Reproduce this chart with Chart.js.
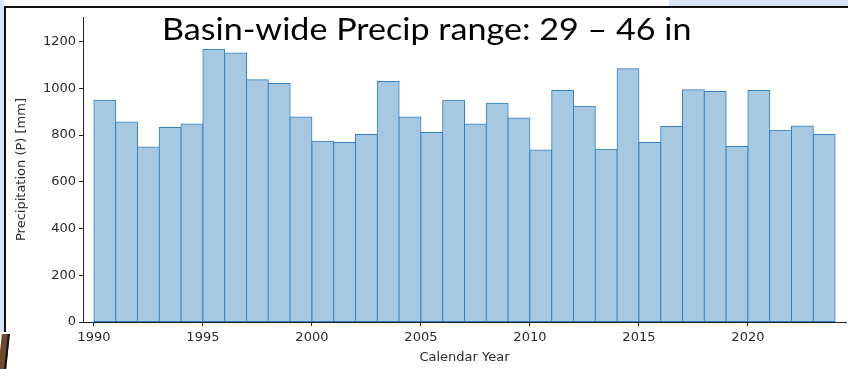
<!DOCTYPE html>
<html>
<head>
<meta charset="utf-8">
<script src="https://cdn.jsdelivr.net/npm/chart.js@4.4.1/dist/chart.umd.min.js"></script>
<style>
  html, body { margin: 0; padding: 0; background: #fff; }
  #wrap { position: relative; width: 848px; height: 369px; overflow: hidden; background: #fff; }
  #leftStrip { position: absolute; left: 0; top: 0; width: 4px; height: 332px; background: #dae3f3; }
  #topStrip { position: absolute; left: 669px; top: 0; width: 179px; height: 6px; background: #dae3f3; }
  #topLine { position: absolute; left: 4px; top: 6px; width: 844px; height: 2px; background: #111; }
  #leftLine { position: absolute; left: 4px; top: 6px; width: 2px; height: 326px; background: #111; }
  #corner { position: absolute; left: 0; top: 334px; width: 6px; height: 35px; border-right: 2px solid #111; background: #6b4a2e; transform: skewX(-6deg); }
  #mycanvas { position: absolute; left: 0; top: 0; }
  #title { position: absolute; left: 162px; top: 11px; font-family: Lato, "Open Sans", sans-serif; font-size: 31px; color: #000; white-space: nowrap; line-height: 34px; transform: scaleX(1.1); transform-origin: 0 0; }
</style>
</head>
<body>
<div id="wrap">
  <div id="leftStrip"></div>
  <div id="topStrip"></div>
  <div id="topLine"></div>
  <div id="leftLine"></div>
  <div id="corner"></div>
  <canvas id="mycanvas" width="848" height="369"></canvas>
  <div id="title">Basin-wide Precip range: 29 – 46 in</div>
</div>
<script>
// annual precipitation, one bar per calendar year (bar spans year .. year+1)
var years = [1990,1991,1992,1993,1994,1995,1996,1997,1998,1999,
             2000,2001,2002,2003,2004,2005,2006,2007,2008,2009,
             2010,2011,2012,2013,2014,2015,2016,2017,2018,2019,
             2020,2021,2022,2023];
var precip = [949,856,749,832,847,1167,1151,1037,1021,877,
              773,768,802,1029,877,811,949,847,936,873,
              736,990,923,739,1084,768,836,994,986,751,
              990,820,839,802];
var xTicks = [1990,1995,2000,2005,2010,2015,2020];
var yTicks = [0,200,400,600,800,1000,1200];

var points = [];
for (var i in years) {
	points.push({x: years[i] + 0.5, y: precip[i]});
}

var tickFont = {family: "'DejaVu Sans'", size: 13};
var textColor = "#2b2b2b";

var ctx = document.getElementById("mycanvas");
var chart = new Chart(ctx, {
	type: 'bar',
	data: {
		datasets: [{
			label: "Precipitation",
			data: points,
			backgroundColor: "#a6c9e1",
			borderColor: "#3580be",
			borderWidth: 1,
			borderSkipped: false,
			inflateAmount: 0.5,
			barPercentage: 1.0,
			categoryPercentage: 1.0
		}]
	},
	options: {
		responsive: false,
		animation: false,
		devicePixelRatio: 1,
		layout: { padding: {left: 0, right: 2, top: 17, bottom: 0} },
		plugins: { legend: {display: false}, tooltip: {enabled: false} },
		scales: {
			x: {
				type: 'linear',
				min: 1989.5,
				max: 2024.5,
				offset: false,
				afterBuildTicks: function(scale) {
					scale.ticks = xTicks.map(function(v){ return {value: v}; });
				},
				afterFit: function(scale) { scale.height = 47; },
				ticks: {
					font: tickFont, color: textColor, padding: 4, maxRotation: 0,
					callback: function(v){ return String(v); }
				},
				grid: { display: true, offset: false, drawOnChartArea: false, drawTicks: true, tickLength: 4, color: "#222", lineWidth: 1 },
				border: { display: true, color: "#222", width: 1 },
				title: { display: true, text: "Calendar Year", font: tickFont, color: textColor, padding: {top: 0, bottom: 4} }
			},
			y: {
				min: 0,
				max: 1305,
				afterBuildTicks: function(scale) {
					scale.ticks = yTicks.map(function(v){ return {value: v}; });
				},
				afterFit: function(scale) { scale.width = 83; },
				ticks: {
					font: tickFont, color: textColor, padding: 3,
					callback: function(v){ return String(v); }
				},
				grid: { display: true, drawOnChartArea: false, drawTicks: true, tickLength: 4, color: "#222", lineWidth: 1 },
				border: { display: true, color: "#222", width: 1 },
				title: { display: true, text: "Precipitation (P) [mm]", font: tickFont, color: textColor, padding: {top: 14, bottom: 0} }
			}
		}
	}
});
</script>
</body>
</html>
